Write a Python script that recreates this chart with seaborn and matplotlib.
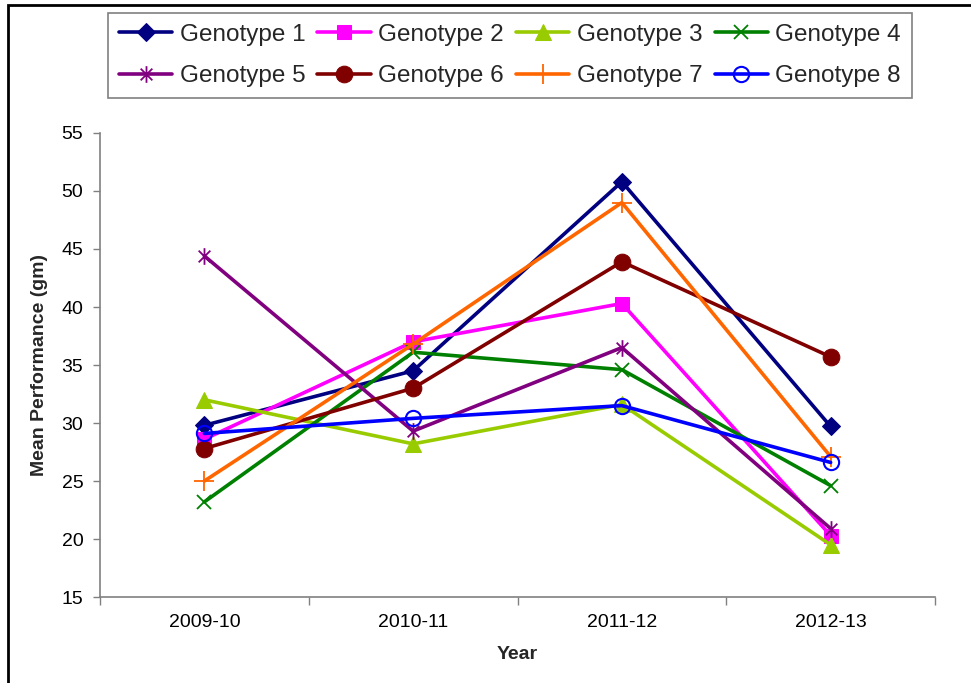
import matplotlib
matplotlib.use("Agg")
import matplotlib.pyplot as plt
import seaborn as sns
from matplotlib.path import Path
from matplotlib.patches import Rectangle

# values
years = ["2009-10", "2010-11", "2011-12", "2012-13"]
genotype_1 = [29.8, 34.5, 50.8, 29.7]
genotype_2 = [28.6, 37.0, 40.3, 20.3]
genotype_3 = [32.0, 28.2, 31.6, 19.5]
genotype_4 = [23.2, 36.1, 34.6, 24.6]
genotype_5 = [44.4, 29.3, 36.5, 20.9]
genotype_6 = [27.8, 33.0, 43.9, 35.7]
genotype_7 = [25.0, 36.8, 49.0, 27.1]
genotype_8 = [29.1, 30.4, 31.5, 26.6]
names = ["Genotype %d" % i for i in range(1, 9)]
y_ticks = [15, 20, 25, 30, 35, 40, 45, 50, 55]

# excel style asterisk: vertical bar plus an x
star = Path([(0, -1), (0, 1), (-0.7, -0.7), (0.7, 0.7), (-0.7, 0.7), (0.7, -0.7)],
            [Path.MOVETO, Path.LINETO, Path.MOVETO, Path.LINETO, Path.MOVETO, Path.LINETO])

styles = [
    dict(color="#000080", marker="D", markersize=9),
    dict(color="#FF00FF", marker="s", markersize=10),
    dict(color="#99CC00", marker="^", markersize=11),
    dict(color="#008000", marker="x", markersize=10, markeredgewidth=1.3),
    dict(color="#800080", marker=star, markersize=12, markeredgewidth=1.3, markerfacecolor="none"),
    dict(color="#800000", marker="o", markersize=12),
    dict(color="#FF6600", marker="+", markersize=14, markeredgewidth=1.3),
    dict(color="#0000FF", marker="o", markersize=11, markeredgewidth=1.5, markerfacecolor="none"),
]
series = [genotype_1, genotype_2, genotype_3, genotype_4,
          genotype_5, genotype_6, genotype_7, genotype_8]

sns.set_theme(style="white")
plt.rcParams["font.family"] = ["Liberation Sans", "DejaVu Sans"]

fig = plt.figure(figsize=(9.71, 6.83), dpi=100)
ax = fig.add_axes([100 / 971, 1 - 597 / 683, 835 / 971, 464 / 683])

for name, vals, st in zip(names, series, styles):
    kw = dict(st)
    color = kw.pop("color")
    sns.lineplot(x=years, y=vals, ax=ax, color=color, linewidth=2.6, label=name,
                 markeredgecolor=color, **kw)

ax.set_xlim(-0.5, 3.5)
ax.set_ylim(15, 55)
ax.set_yticks(y_ticks)
ax.set_xticks(range(len(years)))
ax.set_xticklabels(years)
ax.set_xticks([i - 0.5 for i in range(len(years) + 1)], minor=True)
ax.tick_params(axis="x", which="major", length=0, pad=12, labelsize=14, colors="black")
ax.tick_params(axis="x", which="minor", length=6, width=1, color="#808080", direction="out", bottom=True)
ax.tick_params(axis="y", length=5, width=1, color="#808080", direction="out", left=True,
               pad=7, labelsize=14, labelcolor="black")

for side in ["top", "right"]:
    ax.spines[side].set_visible(False)
for side in ["left", "bottom"]:
    ax.spines[side].set_color("#808080")
    ax.spines[side].set_linewidth(1.2)

ax.set_xlabel("Year", fontsize=14, fontweight="bold")
ax.set_ylabel("Mean Performance (gm)", fontsize=14, fontweight="bold")
ax.xaxis.set_label_coords(0.5, -0.105)
ax.yaxis.set_label_coords(-0.062, 0.5)

# legend is filled row by row in the reference
handles, labels = ax.get_legend_handles_labels()
order = [0, 4, 1, 5, 2, 6, 3, 7]
ax.legend([handles[i] for i in order], [labels[i] for i in order], ncol=4, loc="upper left",
          bbox_to_anchor=(108 / 971, 1 - 13 / 683), bbox_transform=fig.transFigure,
          borderaxespad=0, fontsize=17.5, frameon=True, fancybox=False, framealpha=1,
          edgecolor="#808080", handlelength=2.2, handletextpad=0.3, columnspacing=0.5,
          labelspacing=0.8, borderpad=0.45)
ax.get_legend().get_frame().set_linewidth(1.2)

# outer chart frame (only left and top edges show in the crop)
fig.add_artist(Rectangle((8 / 971, -0.2), 1.2, 1.2 - 5 / 683, transform=fig.transFigure,
                         fill=False, edgecolor="black", linewidth=2))

fig.savefig("out.png", dpi=100)
plt.close(fig)
